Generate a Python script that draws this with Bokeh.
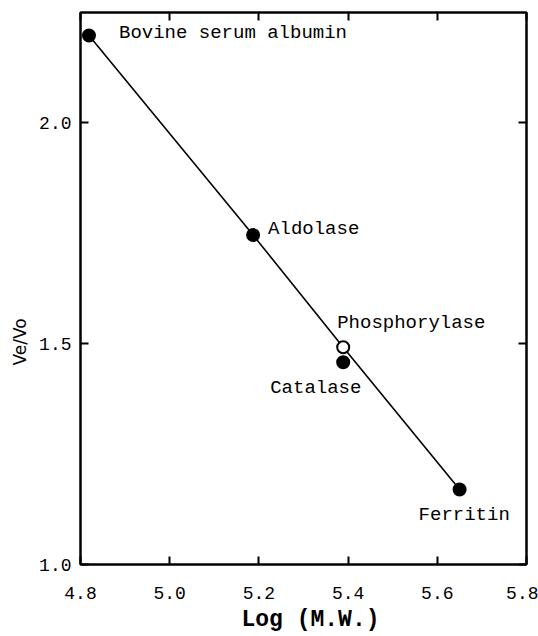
from bokeh.plotting import figure
from bokeh.models import (LinearAxis, FixedTicker, Range1d, ColumnDataSource,
                          PrintfTickFormatter, CustomJSTickFormatter, Title)
from bokeh.core.properties import value
from bokeh.embed import file_html
from bokeh.resources import INLINE

# Calibration proteins: log molecular weight vs elution ratio Ve/Vo
proteins = ["Bovine serum albumin", "Aldolase", "Phosphorylase", "Catalase", "Ferritin"]
log_mw = [4.819, 5.187, 5.389, 5.389, 5.650]
ve_vo = [2.198, 1.746, 1.492, 1.458, 1.170]
filled = [True, True, False, True, True]

# Standards used for the calibration line
line_proteins = ["Bovine serum albumin", "Aldolase", "Phosphorylase", "Ferritin"]

x_ticks = [4.8, 5.0, 5.2, 5.4, 5.6, 5.8]
y_ticks = [1.0, 1.5, 2.0]

# label placement (screen pixels relative to each point)
label_dx = [30, 15, -6, -73, -41]
label_dy = [-2, -6, -24, 26, 26]

MONO = "Liberation Mono"

p = figure(width=538, height=636,
           x_range=Range1d(4.8, 5.8), y_range=Range1d(1.0, 2.25),
           output_backend="svg", toolbar_location=None,
           min_border_left=80, min_border_right=12,
           min_border_top=12, min_border_bottom=72)
p.grid.visible = False
p.outline_line_color = "black"
p.outline_line_width = 2
p.background_fill_color = "white"
p.border_fill_color = "white"


def style_axis(ax, ticks, show_labels):
    ax.ticker = FixedTicker(ticks=ticks)
    ax.major_tick_in = 8
    ax.major_tick_out = 0
    ax.minor_tick_line_color = None
    ax.axis_line_width = 2
    ax.major_tick_line_width = 2
    ax.axis_line_color = "black"
    ax.major_tick_line_color = "black"
    if show_labels:
        ax.formatter = PrintfTickFormatter(format="%.1f")
        ax.major_label_text_font = MONO
        ax.major_label_text_font_size = "18px"
        ax.major_label_text_color = "black"
    else:
        ax.formatter = CustomJSTickFormatter(code="return ''")
        ax.major_label_text_font_size = "1px"
        ax.major_label_standoff = 0


xa = p.xaxis[0]
style_axis(xa, x_ticks, True)
xa.major_label_standoff = 22

ya = p.yaxis[0]
style_axis(ya, y_ticks, True)
ya.major_label_standoff = 9

top = LinearAxis()
style_axis(top, x_ticks, False)
p.add_layout(top, "above")
right = LinearAxis()
style_axis(right, y_ticks, False)
p.add_layout(right, "right")

# axis titles
x_title = Title(text="Log (M.W.)", align="left", offset=161,
                text_font=MONO, text_font_size="23px", text_font_style="bold",
                text_color="black", standoff=6)
p.add_layout(x_title, "below")
y_title = Title(text="Ve/Vo", align="left", offset=199,
                text_font="DejaVu Sans", text_font_size="17px",
                text_font_style="normal", text_color="black", standoff=14)
p.add_layout(y_title, "left")

# calibration line through the standards
lx = [log_mw[proteins.index(n)] for n in line_proteins]
ly = [ve_vo[proteins.index(n)] for n in line_proteins]
p.line(lx, ly, line_color="black", line_width=1.6)

src = ColumnDataSource(dict(
    x=log_mw, y=ve_vo, name=proteins, dx=label_dx, dy=label_dy,
    fill=["black" if f else "white" for f in filled],
))
p.scatter("x", "y", source=src, size=12, marker="circle",
          fill_color="fill", line_color="black", line_width=2)

p.text("x", "y", text="name", source=src, x_offset="dx", y_offset="dy",
       text_font=value(MONO), text_font_size="19px", text_color="black",
       text_align="left", text_baseline="middle")

open("out.html", "w").write(file_html(p, INLINE))
